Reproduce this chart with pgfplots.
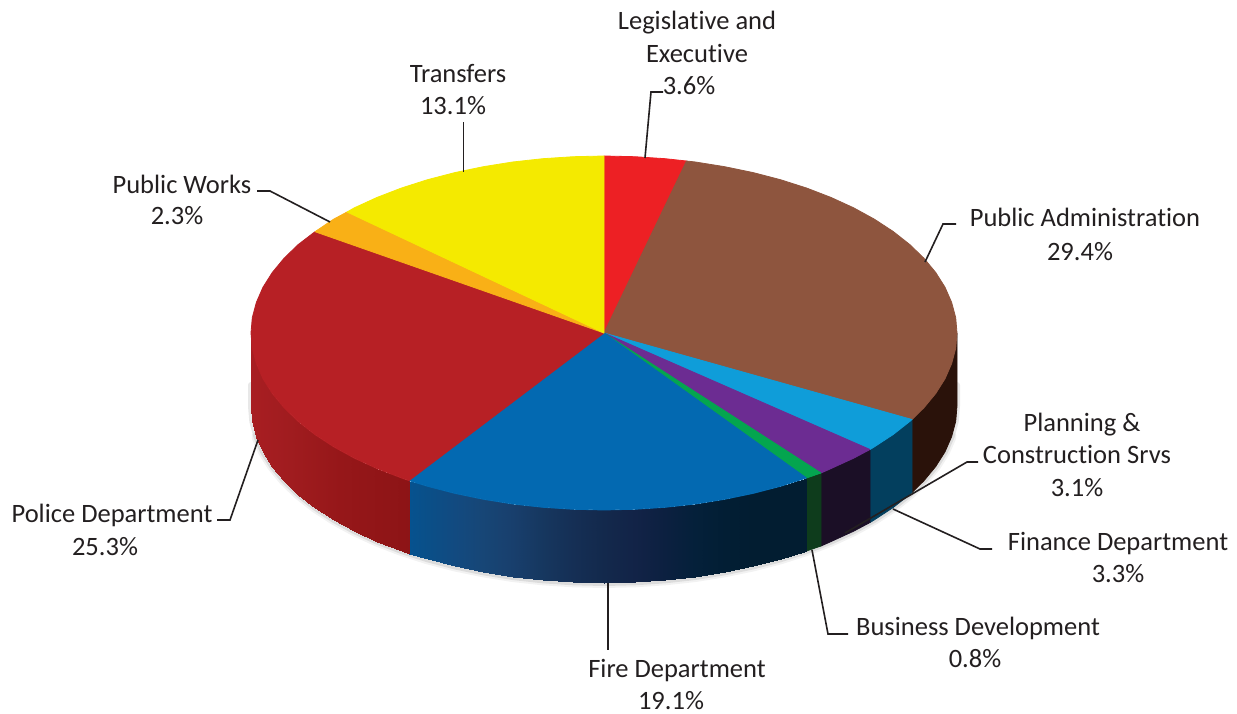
\documentclass[border=0pt]{standalone}
\usepackage{pgfplots}
\usepackage{fontspec}
\pgfplotsset{compat=1.18}
\setmainfont[Ligatures=NoCommon]{Carlito}
\definecolor{cRed}{HTML}{ED2024}
\definecolor{cBrown}{HTML}{8E553E}
\definecolor{cSky}{HTML}{0F9DD9}
\definecolor{cPurple}{HTML}{6C2C92}
\definecolor{cGreen}{HTML}{04A54F}
\definecolor{cBlue}{HTML}{0369B1}
\definecolor{cDark}{HTML}{B72025}
\definecolor{cOrange}{HTML}{F9B016}
\definecolor{cYellow}{HTML}{F4EA00}
\definecolor{wBrown}{HTML}{2A120A}
\definecolor{wSky}{HTML}{033F5E}
\definecolor{wPurple}{HTML}{1B0F26}
\definecolor{wGreen}{HTML}{0E3C1C}
\definecolor{ink}{HTML}{231F20}
\pgfplotsset{
  face/.style={fill=#1,draw=#1,line width=0.8pt,line join=bevel},
  leader/.style={draw=ink,line width=1.6pt},
  halo/.style={draw=black,line cap=round,line join=round},
  % positions are pixel columns of the picture
  colormap={wallblue}{rgb255(251pt)=(6,82,143) rgb255(409pt)=(6,82,143) rgb255(427pt)=(10,79,136) rgb255(455pt)=(18,74,128) rgb255(483pt)=(23,70,118) rgb255(512pt)=(24,63,109) rgb255(543pt)=(22,55,95) rgb255(573pt)=(21,47,85) rgb255(604pt)=(19,41,76) rgb255(635pt)=(18,35,71) rgb255(665pt)=(12,32,64) rgb255(695pt)=(4,32,58) rgb255(725pt)=(2,30,52) rgb255(753pt)=(2,29,49) rgb255(957pt)=(2,29,48)},
  colormap={wallred}{rgb255(251pt)=(168,30,34) rgb255(290pt)=(160,28,31) rgb255(340pt)=(150,23,25) rgb255(409pt)=(141,20,22) rgb255(957pt)=(141,20,22)},
}
\newcommand\lbl[3]{\node[anchor=base,inner sep=0pt,text=ink,font=\fontsize{26.5}{32}\selectfont] at (axis cs:#1,#2) {#3};}
\begin{document}
\begin{tikzpicture}
\begin{axis}[
  scale only axis, width=1237pt, height=714pt,
  xmin=0, xmax=1237, ymin=0, ymax=714, y dir=reverse,
  point meta min=251, point meta max=957,
  hide axis, clip=false]

% keeps the page as large as the axis
\addplot[draw=none] coordinates {(0,0) (1237,714)};

% soft shadow round the lower rim
\addplot[halo,line width=10pt,opacity=0.05] coordinates {(951.6,436.7) (945,451.8) (935.7,466.5) (923.9,480.8) (909.7,494.5) (893.2,507.5) (874.4,519.8) (853.6,531.2) (830.9,541.6) (806.5,551) (780.5,559.3) (753.2,566.4) (724.7,572.3) (695.4,577) (665.3,580.3) (634.8,582.3) (604,583) (573.2,582.3) (542.7,580.3) (512.6,577) (483.3,572.3) (454.8,566.4) (427.5,559.3) (401.5,551) (377.1,541.6) (354.4,531.2) (333.6,519.8) (314.8,507.5) (298.3,494.5) (284.1,480.8) (272.3,466.5) (263,451.8) (256.4,436.7)};
\addplot[halo,line width=6pt,opacity=0.09] coordinates {(957,385) (957,406) (955.7,421.4) (951.6,436.7) (945,451.8) (935.7,466.5) (923.9,480.8) (909.7,494.5) (893.2,507.5) (874.4,519.8) (853.6,531.2) (830.9,541.6) (806.5,551) (780.5,559.3) (753.2,566.4) (724.7,572.3) (695.4,577) (665.3,580.3) (634.8,582.3) (604,583) (573.2,582.3) (542.7,580.3) (512.6,577) (483.3,572.3) (454.8,566.4) (427.5,559.3) (401.5,551) (377.1,541.6) (354.4,531.2) (333.6,519.8) (314.8,507.5) (298.3,494.5) (284.1,480.8) (272.3,466.5) (263,451.8) (256.4,436.7) (252.3,421.4) (251,406) (251,385)};

% side walls, right part
\addplot[face=wBrown] coordinates {(957,333) (955.7,348.4) (951.6,363.7) (945,378.8) (935.7,393.5) (923.9,407.8) (912,419.5) (912,492.5) (923.9,480.8) (935.7,466.5) (945,451.8) (951.6,436.7) (955.7,421.4) (957,406)} -- cycle;
\addplot[face=wSky] coordinates {(912,419.5) (909.7,421.5) (893.2,434.5) (874.4,446.8) (870,449.5) (870,522.5) (874.4,519.8) (893.2,507.5) (909.7,494.5) (912,492.5)} -- cycle;
\addplot[face=wPurple] coordinates {(870,449.5) (853.6,458.2) (830.9,468.6) (821,473) (821,546) (830.9,541.6) (853.6,531.2) (870,522.5)} -- cycle;
\addplot[face=wGreen] coordinates {(821,473) (806.5,478) (806.5,551) (821,546)} -- cycle;

% fire department wall
\addplot[surf,shader=interp,mesh/rows=2,point meta=x,colormap name=wallblue] coordinates {
  (409,480.6) (427.5,486.3) (454.8,493.4) (483.3,499.3) (512.6,504) (542.7,507.3) (573.2,509.3) (604,510) (634.8,509.3) (665.3,507.3) (695.4,504) (724.7,499.3) (753.2,493.4) (780.5,486.3) (806.5,478)

  (409,553.6) (427.5,559.3) (454.8,566.4) (483.3,572.3) (512.6,577) (542.7,580.3) (573.2,582.3) (604,583) (634.8,582.3) (665.3,580.3) (695.4,577) (724.7,572.3) (753.2,566.4) (780.5,559.3) (806.5,551)
};

% police department wall
\addplot[surf,shader=interp,mesh/rows=2,point meta=x,colormap name=wallred] coordinates {
  (251,333) (252.3,348.4) (256.4,363.7) (263,378.8) (272.3,393.5) (284.1,407.8) (298.3,421.5) (314.8,434.5) (333.6,446.8) (354.4,458.2) (377.1,468.6) (401.5,478) (409,480.6)

  (251,406) (252.3,421.4) (256.4,436.7) (263,451.8) (272.3,466.5) (284.1,480.8) (298.3,494.5) (314.8,507.5) (333.6,519.8) (354.4,531.2) (377.1,541.6) (401.5,551) (409,553.6)
};

% top faces
\addplot[face=cRed] coordinates {(604,333) (604,156) (634.8,156.7) (665.3,158.7) (686.5,161)} -- cycle;
\addplot[face=cBrown] coordinates {(604,333) (686.5,161) (695.4,162) (724.7,166.7) (753.2,172.6) (780.5,179.7) (806.5,188) (830.9,197.4) (853.6,207.8) (874.4,219.2) (893.2,231.5) (909.7,244.5) (923.9,258.2) (935.7,272.5) (945,287.2) (951.6,302.3) (955.7,317.6) (957,333) (955.7,348.4) (951.6,363.7) (945,378.8) (935.7,393.5) (923.9,407.8) (912,419.5)} -- cycle;
\addplot[face=cSky] coordinates {(604,333) (912,419.5) (909.7,421.5) (893.2,434.5) (874.4,446.8) (870,449.5)} -- cycle;
\addplot[face=cPurple] coordinates {(604,333) (870,449.5) (853.6,458.2) (830.9,468.6) (821,473)} -- cycle;
\addplot[face=cGreen] coordinates {(604,333) (821,473) (806.5,478)} -- cycle;
\addplot[face=cBlue] coordinates {(604,333) (806.5,478) (780.5,486.3) (753.2,493.4) (724.7,499.3) (695.4,504) (665.3,507.3) (634.8,509.3) (604,510) (573.2,509.3) (542.7,507.3) (512.6,504) (483.3,499.3) (454.8,493.4) (427.5,486.3) (409,480.6)} -- cycle;
\addplot[face=cDark] coordinates {(604,333) (409,480.6) (401.5,478) (377.1,468.6) (354.4,458.2) (333.6,446.8) (314.8,434.5) (298.3,421.5) (284.1,407.8) (272.3,393.5) (263,378.8) (256.4,363.7) (252.3,348.4) (251,333) (252.3,317.6) (256.4,302.3) (263,287.2) (272.3,272.5) (284.1,258.2) (298.3,244.5) (315,231.7)} -- cycle;
\addplot[face=cOrange] coordinates {(604,333) (315,231.7) (333.6,219.2) (347,212)} -- cycle;
\addplot[face=cYellow] coordinates {(604,333) (347,212) (354.4,207.8) (377.1,197.4) (401.5,188) (427.5,179.7) (454.8,172.6) (483.3,166.7) (512.6,162) (542.7,158.7) (573.2,156.7) (604,156)} -- cycle;

% leader lines
\addplot[leader] coordinates {(645,158) (651,92) (663,92)};
\addplot[leader] coordinates {(925,262) (943,224) (956,224)};
\addplot[leader] coordinates {(978,462) (967,462) (845,533)};
\addplot[leader] coordinates {(992,549) (980,549) (893,509)};
\addplot[leader] coordinates {(812,550) (828,634) (848,634)};
\addplot[leader] coordinates {(608,583) (608,650)};
\addplot[leader] coordinates {(258,440) (230,520) (217,520)};
\addplot[leader] coordinates {(330,222) (270,191) (257,191)};
\addplot[leader] coordinates {(463.5,172) (463.5,122)};

% labels
\lbl{697}{29.5}{Legislative and}
\lbl{697}{62.5}{Executive}
\lbl{689}{95}{3.6\%}
\lbl{458}{82.5}{Transfers}
\lbl{453}{115}{13.1\%}
\lbl{182}{193.5}{Public Works}
\lbl{177}{225}{2.3\%}
\lbl{1085}{227}{Public Administration}
\lbl{1080}{260}{29.4\%}
\lbl{1082}{431}{Planning \&}
\lbl{1077}{463}{Construction Srvs}
\lbl{1077}{496}{3.1\%}
\lbl{1118}{550}{Finance Department}
\lbl{1118}{582}{3.3\%}
\lbl{978}{635}{Business Development}
\lbl{975}{667}{0.8\%}
\lbl{677}{677.5}{Fire Department}
\lbl{671}{709}{19.1\%}
\lbl{112}{522}{Police Department}
\lbl{105}{555}{25.3\%}
\end{axis}
\end{tikzpicture}
\end{document}
